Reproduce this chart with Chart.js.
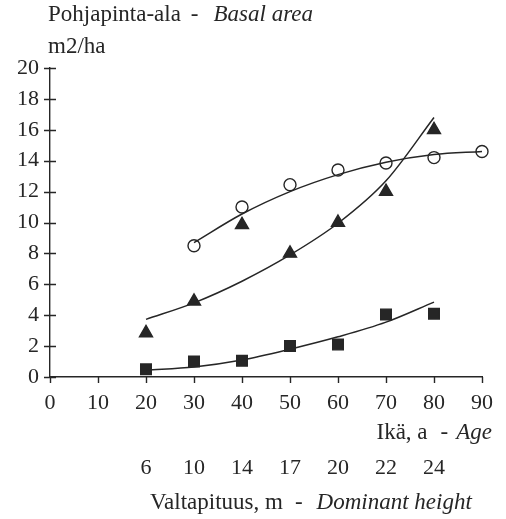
<!DOCTYPE html>
<html>
<head>
<meta charset="utf-8">
<script src="https://cdn.jsdelivr.net/npm/chart.js@4/dist/chart.umd.min.js"></script>
<style>
  html, body { margin: 0; padding: 0; background: #ffffff; }
  #wrap { width: 506px; height: 519px; }
</style>
</head>
<body>
<div id="wrap"><canvas id="chart" width="506" height="519"></canvas></div>
<script>
// Observed basal area (m2/ha) by stand age
const obsAges = [20, 30, 40, 50, 60, 70, 80];
const circleAges = [30, 40, 50, 60, 70, 80, 90];
const circleValues = [8.5, 11.0, 12.45, 13.4, 13.85, 14.2, 14.6];
const triangleValues = [2.85, 4.9, 9.85, 8.0, 10.0, 12.0, 16.0];
const squareValues = [0.5, 1.0, 1.05, 2.0, 2.1, 4.05, 4.1];

// Fitted growth curves, sampled by age
const circleFitAges = [30, 40, 50, 60, 70, 80, 90];
const circleFitValues = [8.7, 10.55, 12.0, 13.1, 13.9, 14.4, 14.6];
const triangleFitAges = [20, 30, 40, 50, 60, 70, 80];
const triangleFitValues = [3.73, 4.8, 6.2, 7.9, 9.95, 12.7, 16.8];
const squareFitAges = [20, 30, 40, 50, 60, 70, 80];
const squareFitValues = [0.45, 0.65, 1.1, 1.8, 2.6, 3.55, 4.85];

// Axes
const ageTicks = [0, 10, 20, 30, 40, 50, 60, 70, 80, 90];
const basalTicks = [0, 2, 4, 6, 8, 10, 12, 14, 16, 18, 20];
const heightAges = [20, 30, 40, 50, 60, 70, 80];
const heightLabels = ['6', '10', '14', '17', '20', '22', '24'];

const INK = '#262626';
const SERIF = '"Liberation Serif", "Times New Roman", serif';
const TICK_SIZE = 22;
const CAPTION_SIZE = 23;

const pts = (xs, ys) => xs.map((x, i) => ({ x: x, y: ys[i] }));

// Tick marks crossing the axes and the two-style captions
const decorations = {
  id: 'decorations',
  afterDraw(chart) {
    const ctx = chart.ctx;
    const xs = chart.scales.x, ys = chart.scales.y;
    const left = chart.chartArea.left, bottom = chart.chartArea.bottom;
    ctx.save();
    ctx.strokeStyle = INK;
    ctx.lineWidth = 1.4;
    ctx.beginPath();
    basalTicks.forEach(v => {
      const y = Math.round(ys.getPixelForValue(v)) + 0.5;
      ctx.moveTo(left - 6, y);
      ctx.lineTo(left + 6, y);
    });
    ageTicks.forEach(v => {
      const x = Math.round(xs.getPixelForValue(v)) + 0.5;
      ctx.moveTo(x, bottom);
      ctx.lineTo(x, bottom + 6);
    });
    ctx.stroke();

    ctx.fillStyle = INK;
    ctx.textBaseline = 'middle';
    const fontFor = p => (p.italic ? 'italic ' : '') + CAPTION_SIZE + 'px ' + SERIF;
    const drawParts = (parts, x, y, alignRight) => {
      let total = 0;
      parts.forEach(p => {
        ctx.font = fontFor(p);
        p.w = ctx.measureText(p.t).width;
        total += p.w + (p.gap || 0);
      });
      let cx = alignRight ? x - total : x;
      ctx.textAlign = 'left';
      parts.forEach(p => {
        cx += (p.gap || 0);
        ctx.font = fontFor(p);
        ctx.fillText(p.t, cx, y);
        cx += p.w;
      });
    };
    drawParts([{ t: 'Pohjapinta-ala' }, { t: '-', gap: 10 }, { t: 'Basal area', italic: true, gap: 15 }], left - 2, 15, false);
    drawParts([{ t: 'm2/ha' }], left - 2, 47, false);
    drawParts([{ t: 'Ikä, a' }, { t: '-', gap: 13 }, { t: 'Age', italic: true, gap: 8 }], 492, 433, true);
    drawParts([{ t: 'Valtapituus, m' }, { t: '-', gap: 12 }, { t: 'Dominant height', italic: true, gap: 14 }], 150, 503, false);
    ctx.restore();
  }
};

const markerBase = {
  showLine: false,
  borderColor: INK,
  borderWidth: 1.4,
  clip: false
};
const curveBase = {
  showLine: true,
  pointRadius: 0,
  borderColor: INK,
  borderWidth: 1.5,
  cubicInterpolationMode: 'monotone',
  fill: false,
  clip: false
};

new Chart(document.getElementById('chart'), {
  type: 'scatter',
  data: {
    datasets: [
      Object.assign({ label: 'fit circle', data: pts(circleFitAges, circleFitValues) }, curveBase),
      Object.assign({ label: 'fit triangle', data: pts(triangleFitAges, triangleFitValues) }, curveBase),
      Object.assign({ label: 'fit square', data: pts(squareFitAges, squareFitValues) }, curveBase),
      Object.assign({ label: 'circle', data: pts(circleAges, circleValues), pointStyle: 'circle', pointRadius: 6, backgroundColor: '#ffffff' }, markerBase),
      Object.assign({ label: 'triangle', data: pts(obsAges, triangleValues), pointStyle: 'triangle', pointRadius: 7.5, backgroundColor: INK }, markerBase),
      Object.assign({ label: 'square', data: pts(obsAges, squareValues), pointStyle: 'rect', pointRadius: 7.5, backgroundColor: INK }, markerBase)
    ]
  },
  options: {
    responsive: false,
    animation: false,
    layout: { padding: { top: 68, right: 23, left: 0, bottom: 0 } },
    plugins: { legend: { display: false }, tooltip: { enabled: false } },
    scales: {
      x: {
        type: 'linear', position: 'bottom', min: 0, max: 90,
        afterBuildTicks: s => { s.ticks = ageTicks.map(v => ({ value: v })); },
        afterFit: s => { s.height = 70; },
        grid: { display: false, drawTicks: false },
        border: { display: true, color: INK, width: 1.4 },
        ticks: { color: INK, padding: 13, font: { family: SERIF, size: TICK_SIZE } }
      },
      x2: {
        type: 'linear', position: 'bottom', min: 0, max: 90,
        afterBuildTicks: s => { s.ticks = heightAges.map(v => ({ value: v })); },
        afterFit: s => { s.height = 72; },
        grid: { display: false, drawTicks: false },
        border: { display: false },
        ticks: { color: INK, padding: 8, font: { family: SERIF, size: TICK_SIZE },
                 callback: (v, i) => heightLabels[i] }
      },
      y: {
        type: 'linear', min: 0, max: 20,
        afterBuildTicks: s => { s.ticks = basalTicks.map(v => ({ value: v })); },
        afterFit: s => { s.width = 50; },
        grid: { display: false, drawTicks: false },
        border: { display: true, color: INK, width: 1.4 },
        ticks: { color: INK, padding: 11, font: { family: SERIF, size: TICK_SIZE } }
      }
    }
  },
  plugins: [decorations]
});
</script>
</body>
</html>
